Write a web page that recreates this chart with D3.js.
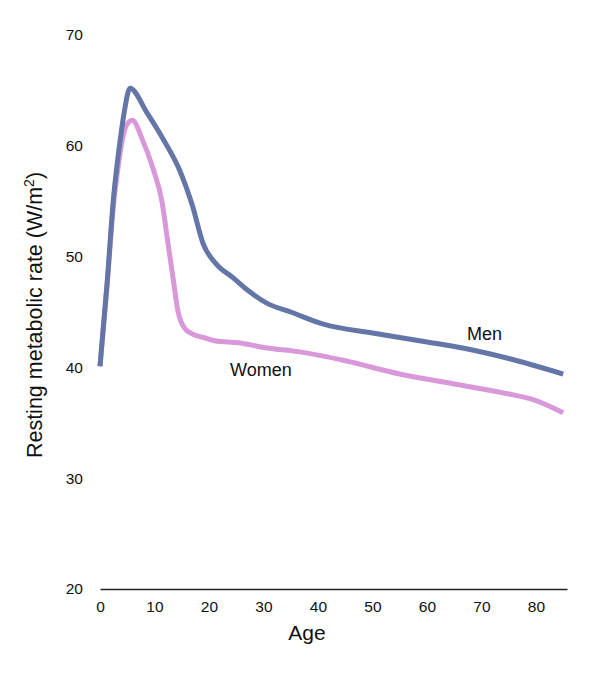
<!DOCTYPE html>
<meta charset="utf-8">
<style>
  body { margin: 0; background: #fff; }
  text { font-family: "Liberation Sans", Arial, Helvetica, sans-serif; fill: #111; }
</style>
<body>
<div id="chart"></div>
<script src="https://d3js.org/d3.v7.min.js"></script>
<script>
  // ages and rates
  const menAges = [0, 1.3, 2.5, 3.7, 4.5, 5.5, 8.6, 11.6, 14.7, 16.9, 18.9, 21.4, 24.4, 27, 30.6, 35, 41, 50, 60, 67, 75, 85];
  const menRate = [40.1, 47.6, 55.4, 60.5, 63.2, 65.2, 63.0, 60.6, 57.7, 54.7, 51.2, 49.3, 48.1, 47, 45.8, 45, 43.9, 43.1, 42.3, 41.7, 40.8, 39.4];

  const womenAges = [0, 1.3, 2.5, 3.2, 4, 4.8, 5.9, 7.9, 9.7, 11.4, 12.5, 13.4, 14.3, 15.6, 17, 19, 21, 25.7, 30, 36.7, 45, 55, 65, 75, 79.5, 85];
  const womenRate = [40.1, 47.4, 54.8, 57.6, 60.3, 61.8, 62.3, 60.4, 58.0, 54.9, 51.1, 48.1, 45.1, 43.5, 43.0, 42.7, 42.4, 42.2, 41.8, 41.4, 40.6, 39.4, 38.5, 37.6, 37.1, 35.9];

  const xTicks = [0, 10, 20, 30, 40, 50, 60, 70, 80];
  const yTicks = [20, 30, 40, 50, 60, 70];

  const width = 600, height = 682;

  const svg = d3.select('#chart').append('svg')
      .attr('width', width)
      .attr('height', height);

  const x = d3.scaleLinear().domain([0, 85.7]).range([100, 567]);
  const y = d3.scaleLinear().domain([20, 70]).range([589, 35]);

  // x axis: only the baseline and labels
  const xAxis = svg.append('g')
      .attr('transform', `translate(0,${y(20)})`)
      .call(d3.axisBottom(x).tickValues(xTicks).tickSize(0).tickPadding(12));
  xAxis.select('.domain').attr('stroke', '#222').attr('stroke-width', 1.5);
  xAxis.selectAll('text').style('font-size', '15.5px').style('font-family', null);

  const yAxis = svg.append('g')
      .attr('transform', `translate(${x(0)},0)`)
      .call(d3.axisLeft(y).tickValues(yTicks).tickSize(0).tickPadding(17));
  yAxis.select('.domain').remove();
  yAxis.selectAll('text').style('font-size', '15.5px').style('font-family', null);

  const line = d3.line()
      .x(d => x(d[0]))
      .y(d => y(d[1]))
      .curve(d3.curveMonotoneX);

  svg.append('path')
      .datum(d3.zip(womenAges, womenRate))
      .attr('fill', 'none')
      .attr('stroke', '#d898da')
      .attr('stroke-width', 5)
      .attr('stroke-linejoin', 'round')
      .attr('d', line);

  svg.append('path')
      .datum(d3.zip(menAges, menRate))
      .attr('fill', 'none')
      .attr('stroke', '#6476a7')
      .attr('stroke-width', 5)
      .attr('stroke-linejoin', 'round')
      .attr('d', line);

  // series labels
  svg.append('text').attr('x', 467).attr('y', 340)
      .style('font-size', '18px').text('Men');
  svg.append('text').attr('x', 230).attr('y', 376)
      .style('font-size', '18px').text('Women');

  // axis titles
  svg.append('text')
      .attr('x', 307).attr('y', 640)
      .attr('text-anchor', 'middle')
      .style('font-size', '21px')
      .text('Age');

  const yt = svg.append('text')
      .attr('transform', 'translate(42,315) rotate(-90)')
      .attr('text-anchor', 'middle')
      .style('font-size', '21.5px');
  yt.append('tspan').text('Resting metabolic rate (W/m');
  yt.append('tspan').attr('dy', -8).style('font-size', '14px').text('2');
  yt.append('tspan').attr('dy', 8).text(')');
</script>
</body>
